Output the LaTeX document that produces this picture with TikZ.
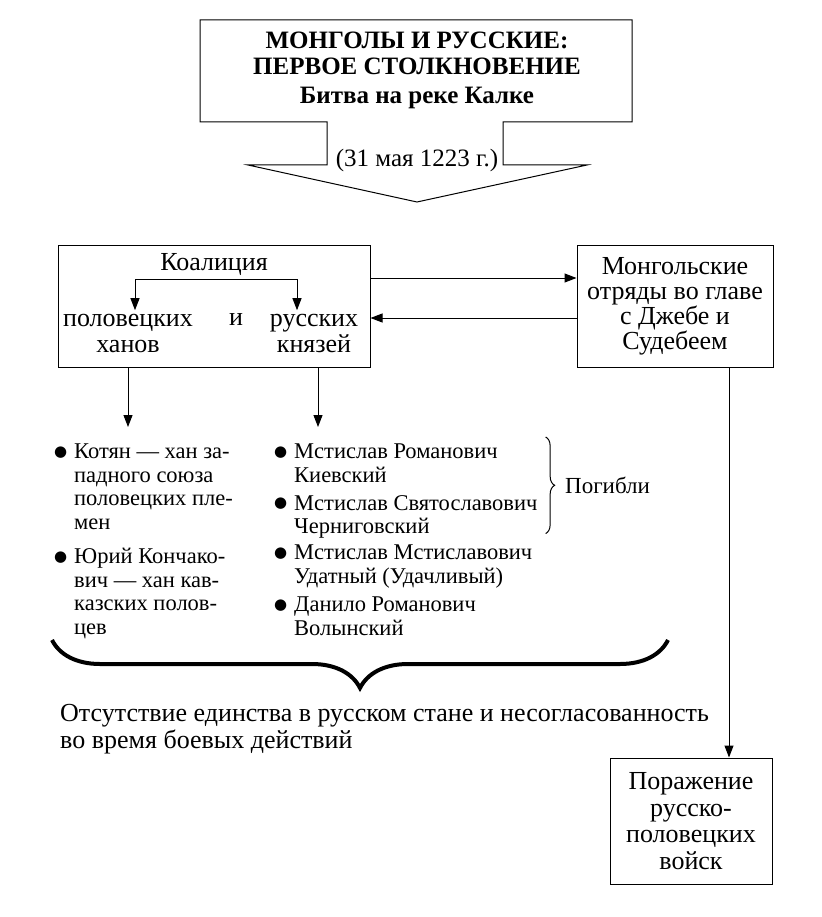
\documentclass[tikz,border=0pt]{standalone}
\usepackage{fontspec}
\setmainfont{Liberation Serif}
\newfontfamily\symfont{DejaVu Sans}
\usetikzlibrary{arrows.meta,calc,decorations.pathreplacing}
\newcommand{\blt}{\llap{\raisebox{2.5pt}{\symfont\fontsize{15}{0}\selectfont ●}\hspace{7pt}}}
\begin{document}
\begin{tikzpicture}[
  x=1pt, y=-1pt,
  font=\fontsize{26}{26}\selectfont,
  box/.style={
    draw,
    line width=1pt,
    inner sep=0pt,
    align=center
  },
  item/.style={
    anchor=north west,
    align=left,
    inner sep=0pt,
    font=\fontsize{22.5}{23.5}\selectfont
  },
  arr/.style={
    draw,
    line width=1pt,
    -{Triangle[length=12pt,width=9pt]}
  },
  arr_both/.style={
    draw,
    line width=1pt,
    {Triangle[length=12pt,width=9pt]}-{Triangle[length=12pt,width=9pt]}
  },
  brace_small/.style={
    draw,
    line width=1pt,
    decorate,
    decoration={brace, amplitude=9pt}
  },
  brace_big/.style={
    draw,
    line width=4pt,
    decorate,
    decoration={brace, amplitude=48pt}
  }
]
\useasboundingbox (0,0) rectangle (821,917);
% title with the big arrow
\draw[line width=1pt] (200,20) -- (632,20) -- (632,122) -- (503,122) -- (503,165)
  -- (587,165) -- (417,202) -- (248,165) -- (327,165) -- (327,122) -- (200,122) -- cycle;
\node[align=center, font=\fontsize{25}{26.5}\selectfont\bfseries] (title) at (417,70)
  {МОНГОЛЫ И РУССКИЕ:\\ПЕРВОЕ СТОЛКНОВЕНИЕ\\[2pt]Битва на реке Калке};
\node[font=\fontsize{25}{26}\selectfont] (date) at (417,160) {(31 мая 1223 г.)};
% coalition
\node[box, minimum width=312pt, minimum height=122pt] (coal) at (214,306) {};
\node (koal) at (214,265) {Коалиция};
\node[align=center] (kh) at (128,333) {половецких\\ханов};
\node (i) at (236,320) {и};
\node[align=center] (kn) at (314,333) {русских\\князей};
\draw[arr_both] ($(kh.north)+(7,0)$) |- (koal.south) -| ($(kn.north)+(-17,0)$);
% mongols
\node[box, minimum width=196pt, minimum height=122pt, font=\fontsize{26}{25}\selectfont]
  (mong) at (675,306) {Монгольские\\отряды во главе\\с Джебе и\\Судебеем};
\draw[arr] ($(coal.east)+(0,-28)$) -- ($(coal.east -| mong.west)+(0,-28)$);
\draw[arr] ($(mong.west)+(0,12)$) -- ($(mong.west -| coal.east)+(0,12)$);
% lists
\node[item] (l1) at (74,444) {\blt Котян — хан за-\\падного союза\\половецких пле-\\мен};
\node[item] (l2) at (74,548) {\blt Юрий Кончако-\\вич — хан кав-\\казских полов-\\цев};
\node[item] (r1) at (294,444) {\blt Мстислав Романович\\Киевский};
\node[item] (r2) at (294,495) {\blt Мстислав Святославович\\Черниговский};
\node[item] (r3) at (294,545) {\blt Мстислав Мстиславович\\Удатный (Удачливый)};
\node[item] (r4) at (294,597) {\blt Данило Романович\\Волынский};
\draw[arr] (coal.south -| kh) -- ($(l1.north -| kh)+(0,-17)$);
\draw[arr] ($(coal.south -| kn)+(4,0)$) -- ($(r1.north -| kn)+(4,-17)$);
\coordinate (br_top) at ($(r1.north -| r2.east)+(8,-7)$);
\coordinate (br_bot) at ($(r2.south east)+(8,-5)$);
\draw[brace_small] (br_top) -- (br_bot);
\node[anchor=west, font=\fontsize{23}{24}\selectfont] (dead)
  at ($(br_top)!0.5!(br_bot)+(16,0)$) {Погибли};
% result of the coalition
\coordinate (bb_l) at (52,640);
\coordinate (bb_r) at (668,640);
\draw[brace_big] (bb_r) -- (bb_l);
\node[item, font=\fontsize{26}{27}\selectfont] (cause) at (60,704)
  {Отсутствие единства в русском стане и несогласованность\\во время боевых действий};
% defeat
\node[box, minimum width=162pt, minimum height=126pt, font=\fontsize{26}{26.7}\selectfont]
  (defeat) at (691,821) {Поражение\\русско-\\половецких\\войск};
\coordinate (m_out) at ($(mong.south)+(54,0)$);
\draw[arr] (m_out) -- (m_out |- defeat.north);
\end{tikzpicture}
\end{document}
